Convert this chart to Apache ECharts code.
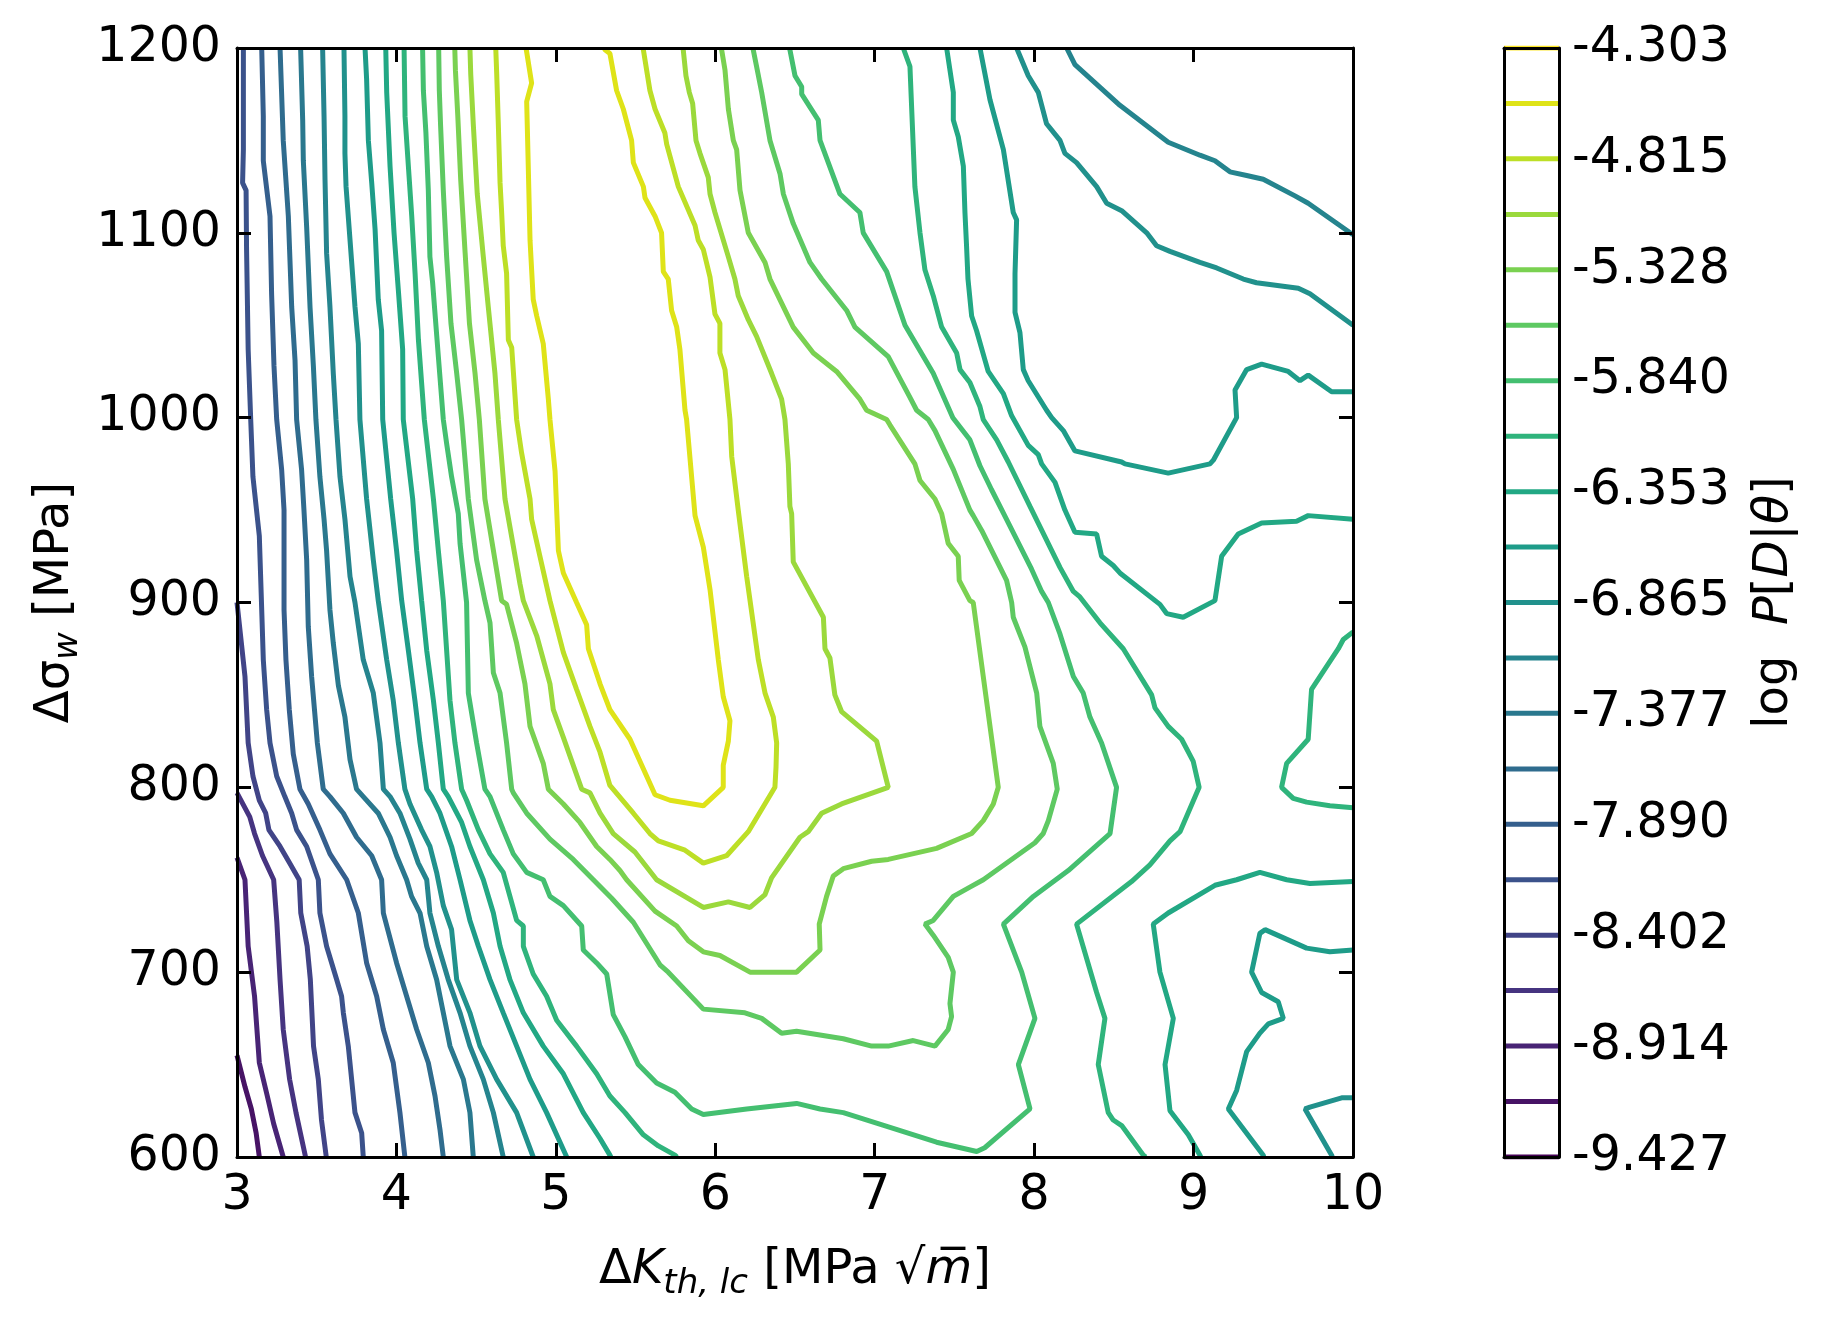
<!DOCTYPE html>
<html>
<head>
<meta charset="utf-8">
<script src="https://cdn.jsdelivr.net/npm/echarts@6/dist/echarts.min.js"></script>
<style>
html, body { margin: 0; padding: 0; background: #fff; }
#chart { width: 1835px; height: 1326px; }
</style>
</head>
<body>
<div id="chart"></div>
<script>
// contour levels of log P[D|theta] and their viridis colours
const LEVELS = [-9.427, -9.171, -8.914, -8.658, -8.402, -8.146, -7.890, -7.634, -7.377, -7.121,
  -6.865, -6.609, -6.353, -6.097, -5.840, -5.584, -5.328, -5.072, -4.815, -4.559, -4.303];
const COLORS = ['#440154', '#471365', '#482475', '#463480', '#414487', '#3b528b', '#355f8d', '#2f6c8e',
  '#2a788e', '#25848e', '#21918c', '#1e9c89', '#22a884', '#2fb47c', '#44bf70', '#5ec962', '#7ad151',
  '#9bd93c', '#bddf26', '#dfe318', '#fde725'];
const CBAR_TICKS = [-9.427, -8.914, -8.402, -7.890, -7.377, -6.865, -6.353, -5.840, -5.328, -4.815, -4.303];

// contour pieces, [dK, dSigma] pairs
const L01 = [[3.00,655],[3.05,638],[3.09,626],[3.12,613],[3.14,600]];
const L02 = [[3.00,762],[3.05,750],[3.07,714],[3.11,687],[3.14,651],[3.19,633],[3.23,618],[3.29,600]];
const L03 = [[3.00,797],[3.08,784],[3.11,775],[3.16,763],[3.23,750],[3.25,727],[3.27,696],[3.29,669],[3.33,642],[3.37,624],[3.43,600]];
const L04 = [[3.00,900],[3.05,860],[3.07,824],[3.10,806],[3.14,793],[3.18,786],[3.20,777],[3.27,768],[3.33,759],[3.39,750],[3.40,732],[3.44,714],[3.46,696],[3.48,660],[3.51,642],[3.53,620],[3.56,600]];
const L05 = [[3.04,1200],[3.04,1145],[3.035,1127],[3.057,1123],[3.06,1091],[3.07,1037],[3.086,999],[3.10,968],[3.14,936],[3.155,896],[3.165,869],[3.186,842],[3.207,824],[3.249,806],[3.30,795],[3.343,786],[3.374,777],[3.437,768],[3.51,750],[3.52,732],[3.562,714],[3.625,696],[3.656,687],[3.667,678],[3.698,660],[3.74,624],[3.782,613],[3.792,600]];
const L06 = [[3.155,1200],[3.165,1163],[3.165,1139],[3.207,1109],[3.217,1067],[3.232,1028],[3.249,999],[3.28,972],[3.295,950],[3.295,896],[3.307,869],[3.328,842],[3.353,818],[3.395,799],[3.447,791],[3.52,777],[3.583,764],[3.688,750],[3.761,732],[3.813,705],[3.876,687],[3.918,669],[3.98,651],[4.022,624],[4.053,600]];
const L07 = [[3.27,1200],[3.29,1150],[3.322,1109],[3.343,1060],[3.364,1031],[3.374,999],[3.405,972],[3.42,950],[3.437,923],[3.447,887],[3.468,860],[3.504,824],[3.541,799],[3.583,795],[3.667,786],[3.75,773],[3.845,763],[3.907,750],[3.918,732],[4.001,705],[4.064,687],[4.127,669],[4.2,651],[4.242,633],[4.273,615],[4.294,600]];
const L08 = [[3.399,1200],[3.412,1161],[3.416,1139],[3.437,1103],[3.458,1060],[3.479,1028],[3.495,999],[3.52,968],[3.546,945],[3.562,928],[3.583,896],[3.604,878],[3.636,855],[3.677,838],[3.709,815],[3.75,799],[3.792,795],[3.886,786],[3.96,773],[4.001,763],[4.064,750],[4.095,741],[4.148,732],[4.19,714],[4.252,696],[4.294,678],[4.336,660],[4.42,642],[4.461,624],[4.482,600]];
const L09 = [[3.537,1200],[3.546,1163],[3.552,1129],[3.562,1089],[3.583,1060],[3.604,1024],[3.621,999],[3.646,968],[3.677,945],[3.709,914],[3.74,900],[3.792,869],[3.855,851],[3.897,824],[3.918,799],[3.96,795],[4.022,786],[4.085,772],[4.137,759],[4.19,750],[4.21,732],[4.263,714],[4.325,696],[4.399,678],[4.461,660],[4.545,642],[4.608,624],[4.67,600]];
const L09R = [[8.204,1200],[8.256,1191],[8.538,1169],[8.841,1149],[9.04,1142],[9.134,1139],[9.228,1133],[9.333,1131],[9.437,1129],[9.636,1120],[9.719,1116],[10.0,1099]];
const L10 = [[3.671,1200],[3.677,1163],[3.677,1143],[3.684,1125],[3.709,1096],[3.74,1060],[3.761,1040],[3.771,999],[3.813,956],[3.855,923],[3.886,901],[3.939,869],[3.98,847],[4.012,824],[4.053,799],[4.085,791],[4.158,777],[4.21,768],[4.252,754],[4.294,736],[4.346,723],[4.378,696],[4.461,678],[4.524,660],[4.629,642],[4.754,624],[4.858,600]];
const L10R = [[7.89,1200],[7.963,1185],[8.026,1176],[8.078,1159],[8.162,1150],[8.193,1143],[8.266,1138],[8.392,1125],[8.455,1116],[8.549,1112],[8.706,1100],[8.768,1093],[8.852,1090],[9.04,1084],[9.145,1081],[9.312,1075],[9.395,1073],[9.657,1070],[9.73,1067],[10.0,1050]];
const L10B = [[10.0,632],[9.929,632],[9.73,627],[9.699,626],[9.866,601],[9.87,600]];
const L11 = [[3.803,1200],[3.813,1183],[3.824,1150],[3.845,1127],[3.866,1102],[3.886,1064],[3.907,1047],[3.914,999],[3.964,956],[4.001,928],[4.033,901],[4.075,874],[4.116,847],[4.148,824],[4.19,799],[4.221,795],[4.273,786],[4.346,768],[4.399,750],[4.461,728],[4.514,714],[4.587,696],[4.67,678],[4.754,660],[4.838,642],[4.942,624],[5.068,600]];
const L11R = [[7.66,1200],[7.723,1172],[7.807,1145],[7.869,1111],[7.89,1107],[7.88,1078],[7.88,1057],[7.911,1046],[7.932,1026],[7.963,1020],[8.078,1004],[8.11,1000],[8.183,993],[8.256,982],[8.549,976],[8.57,975],[8.841,970],[9.103,975],[9.124,977],[9.27,1000],[9.26,1015],[9.333,1026],[9.427,1029],[9.594,1025],[9.667,1020],[9.719,1023],[9.866,1014],[10.0,1014]];
const L11B = [[10.0,712],[9.855,711],[9.709,713],[9.448,723],[9.416,721],[9.364,700],[9.427,689],[9.531,684],[9.563,675],[9.469,672],[9.416,667],[9.333,657],[9.27,636],[9.218,626],[9.437,601],[9.44,600]];
const L12 = [[3.933,1200],[3.939,1176],[3.96,1136],[3.985,1100],[4.012,1069],[4.039,1037],[4.043,999],[4.102,956],[4.127,928],[4.158,901],[4.19,874],[4.232,847],[4.263,824],[4.294,799],[4.325,795],[4.409,781],[4.461,768],[4.545,750],[4.608,732],[4.65,714],[4.712,696],[4.796,678],[4.921,660],[5.047,645],[5.172,624],[5.277,610],[5.339,601],[5.345,600]];
const L12R = [[7.451,1200],[7.493,1176],[7.493,1161],[7.524,1152],[7.556,1136],[7.566,1111],[7.576,1093],[7.585,1075],[7.608,1055],[7.639,1047],[7.65,1046],[7.692,1031],[7.712,1025],[7.807,1013],[7.859,1001],[7.963,985],[8.026,980],[8.047,975],[8.131,965],[8.193,950],[8.256,938],[8.392,937],[8.423,925],[8.496,920],[8.538,916],[8.789,899],[8.831,894],[8.935,892],[9.134,901],[9.176,925],[9.28,937],[9.427,943],[9.646,944],[9.719,947],[10.0,945]];
const L12B = [[10.0,749],[9.73,748],[9.584,750],[9.416,754],[9.27,750],[9.134,747],[8.841,732],[8.747,726],[8.789,700],[8.873,675],[8.821,650],[8.852,625],[8.967,612],[9.04,601],[9.045,600]];
const L13 = [[4.048,1200],[4.054,1163],[4.075,1136],[4.096,1109],[4.117,1078],[4.138,1042],[4.175,999],[4.232,956],[4.263,928],[4.294,901],[4.315,874],[4.336,847],[4.367,824],[4.409,799],[4.44,793],[4.514,777],[4.587,764],[4.67,754],[4.712,741],[4.754,728],[4.796,725],[4.796,714],[4.858,699],[4.942,687],[5.005,674],[5.13,660],[5.256,645],[5.339,633],[5.434,624],[5.549,612],[5.643,606],[5.747,601],[5.76,600]];
const L13R = [[7.179,1200],[7.221,1190],[7.252,1125],[7.284,1100],[7.315,1080],[7.367,1066],[7.42,1049],[7.514,1035],[7.535,1026],[7.597,1019],[7.66,1006],[7.681,999],[7.765,988],[7.838,976],[7.974,952],[8.162,919],[8.246,906],[8.287,903],[8.413,889],[8.559,875],[8.737,850],[8.758,843],[8.841,833],[8.925,826],[8.998,814],[9.035,800],[8.915,776],[8.852,771],[8.726,758],[8.611,749],[8.266,726],[8.392,689],[8.444,675],[8.402,650],[8.465,624],[8.496,620],[8.549,617],[8.685,601],[8.70,600]];
const L13B = [[10.0,884],[9.939,880],[9.908,875],[9.74,853],[9.719,826],[9.584,813],[9.552,800],[9.625,794],[9.709,792],[9.855,790],[10.0,789]];
const L14 = [[4.164,1200],[4.169,1177],[4.185,1154],[4.2,1123],[4.21,1087],[4.227,1073],[4.263,1033],[4.294,999],[4.315,986],[4.346,968],[4.388,948],[4.399,932],[4.44,900],[4.451,851],[4.503,824],[4.555,799],[4.587,795],[4.67,777],[4.733,764],[4.817,754],[4.921,750],[4.963,741],[5.047,736],[5.162,725],[5.172,712],[5.256,705],[5.319,699],[5.36,677],[5.434,665],[5.517,650],[5.632,640],[5.747,635],[5.852,626],[5.925,623],[6.197,626],[6.51,629],[6.657,626],[6.803,624],[7.096,616],[7.388,608],[7.64,603],[7.69,605],[7.974,626],[7.901,650],[8.005,675],[7.922,700],[7.807,726],[7.995,741],[8.214,755],[8.476,775],[8.517,800],[8.423,824],[8.35,838],[8.308,851],[8.246,860],[8.162,883],[8.089,900],[8.047,906],[7.984,918],[7.827,945],[7.733,961],[7.66,974],[7.597,988],[7.49,1000],[7.367,1024],[7.19,1050],[7.075,1079],[6.928,1100],[6.907,1111],[6.782,1121],[6.657,1150],[6.646,1161],[6.542,1175],[6.542,1179],[6.5,1185],[6.468,1199],[6.465,1200]];
const L15 = [[4.265,1200],[4.269,1177],[4.277,1158],[4.294,1123],[4.315,1087],[4.342,1051],[4.378,1024],[4.409,999],[4.451,956],[4.503,923],[4.555,901],[4.587,889],[4.608,862],[4.65,851],[4.691,824],[4.723,799],[4.733,797],[4.817,786],[4.963,772],[5.109,761],[5.235,750],[5.35,740],[5.486,727],[5.653,704],[5.705,700],[5.925,680],[6.186,678],[6.291,675],[6.416,667],[6.51,668],[6.803,664],[6.981,660],[7.085,660],[7.242,663],[7.378,660],[7.461,669],[7.482,676],[7.472,683],[7.493,700],[7.461,708],[7.367,720],[7.315,726],[7.367,728],[7.493,741],[7.597,746],[7.681,750],[8.005,770],[8.057,775],[8.089,782],[8.145,799],[8.12,813],[8.036,833],[8.016,851],[7.942,876],[7.869,892],[7.859,900],[7.827,912],[7.671,939],[7.618,947],[7.597,950],[7.493,972],[7.378,993],[7.336,999],[7.263,1004],[7.221,1011],[7.085,1033],[6.876,1049],[6.824,1058],[6.667,1075],[6.594,1084],[6.489,1105],[6.427,1121],[6.406,1132],[6.343,1150],[6.291,1176],[6.259,1190],[6.238,1199],[6.236,1200]];
const L16 = [[4.366,1200],[4.37,1188],[4.385,1163],[4.403,1129],[4.431,1089],[4.458,1051],[4.493,1024],[4.52,999],[4.555,956],[4.66,901],[4.691,899],[4.754,878],[4.806,856],[4.838,833],[4.921,813],[4.953,799],[5.047,791],[5.151,781],[5.256,768],[5.339,761],[5.402,755],[5.444,750],[5.622,733],[5.758,725],[5.831,717],[5.925,711],[6.029,709],[6.218,700],[6.51,700],[6.657,712],[6.652,726],[6.698,741],[6.74,752],[6.803,756],[6.981,760],[7.085,761],[7.388,767],[7.608,775],[7.681,782],[7.744,791],[7.775,800],[7.618,900],[7.597,901],[7.53,912],[7.524,925],[7.461,932],[7.42,948],[7.378,956],[7.284,966],[7.252,975],[7.096,996],[7.075,999],[6.949,1004],[6.907,1010],[6.761,1025],[6.615,1035],[6.489,1049],[6.343,1075],[6.312,1084],[6.207,1100],[6.155,1123],[6.134,1145],[6.113,1150],[6.082,1167],[6.061,1188],[6.04,1199],[6.039,1200]];
const L17 = [[4.461,1200],[4.466,1186],[4.482,1159],[4.507,1121],[4.545,1087],[4.576,1060],[4.618,1024],[4.639,999],[4.681,956],[4.775,910],[4.796,901],[4.88,882],[4.963,856],[4.984,842],[5.047,827],[5.162,799],[5.214,797],[5.277,786],[5.36,775],[5.496,765],[5.632,750],[5.925,735],[6.082,738],[6.218,735],[6.312,742],[6.353,751],[6.531,773],[6.583,776],[6.667,786],[6.792,791],[7.085,800],[7.012,825],[6.792,841],[6.75,850],[6.719,870],[6.688,875],[6.678,892],[6.489,922],[6.479,948],[6.468,952],[6.458,975],[6.437,999],[6.416,1010],[6.353,1024],[6.259,1044],[6.207,1053],[6.144,1066],[6.123,1075],[6.082,1087],[5.998,1111],[5.967,1121],[5.956,1130],[5.904,1143],[5.879,1150],[5.858,1170],[5.837,1176],[5.816,1185],[5.799,1199],[5.797,1200]];
const L18 = [[4.623,1200],[4.629,1186],[4.639,1159],[4.65,1127],[4.66,1111],[4.67,1093],[4.691,1078],[4.702,1042],[4.723,1038],[4.754,999],[4.785,981],[4.838,956],[4.848,945],[4.9,925],[4.963,901],[5.047,873],[5.13,853],[5.214,833],[5.277,819],[5.339,801],[5.486,786],[5.59,775],[5.643,771],[5.81,766],[5.925,759],[6.071,763],[6.207,776],[6.374,800],[6.381,811],[6.385,824],[6.364,838],[6.312,851],[6.27,869],[6.197,914],[6.144,950],[6.103,979],[6.092,999],[6.061,1026],[6.029,1035],[6.029,1051],[5.998,1056],[5.967,1076],[5.925,1091],[5.893,1096],[5.873,1104],[5.768,1125],[5.695,1148],[5.684,1154],[5.622,1167],[5.59,1177],[5.549,1199],[5.547,1200]];
const L19 = [[4.813,1200],[4.848,1181],[4.817,1171],[4.823,1150],[4.838,1096],[4.858,1064],[4.88,1055],[4.921,1040],[4.953,1010],[4.963,999],[4.995,971],[5.016,928],[5.047,916],[5.13,900],[5.193,888],[5.204,875],[5.277,856],[5.339,842],[5.465,826],[5.601,800],[5.622,796],[5.716,793],[5.925,790],[6.05,800],[6.05,812],[6.082,825],[6.092,836],[6.05,849],[6.019,869],[5.967,907],[5.925,930],[5.873,947],[5.82,999],[5.81,1004],[5.778,1037],[5.758,1049],[5.726,1058],[5.705,1075],[5.674,1079],[5.663,1100],[5.622,1109],[5.559,1119],[5.549,1125],[5.486,1138],[5.475,1150],[5.423,1167],[5.381,1177],[5.339,1197],[5.308,1199],[5.305,1200]];

// [level index, piece]
const CONTOURS = [
  [1, L01], [2, L02], [3, L03], [4, L04], [5, L05], [6, L06], [7, L07], [8, L08],
  [9, L09], [9, L09R], [10, L10], [10, L10R], [10, L10B],
  [11, L11], [11, L11R], [11, L11B], [12, L12], [12, L12R], [12, L12B],
  [13, L13], [13, L13R], [13, L13B], [14, L14], [15, L15], [16, L16],
  [17, L17], [18, L18], [19, L19]
];

const FONT = 'DejaVu Sans';
const chart = echarts.init(document.getElementById('chart'));

const frameLine = { show: true, onZero: false, lineStyle: { color: '#000', width: 3 } };
const inTick = { show: true, inside: true, length: 14, lineStyle: { color: '#000', width: 3 } };
const tickFont = { fontSize: 49, color: '#000', fontFamily: FONT };
const rich = {
  i: { fontSize: 48, fontStyle: 'italic', fontFamily: FONT, color: '#000', lineHeight: 60 },
  s: { fontSize: 34, fontStyle: 'italic', fontFamily: FONT, color: '#000', lineHeight: 30, verticalAlign: 'bottom' }
};
const nameStyle = { fontSize: 48, fontFamily: FONT, color: '#000', lineHeight: 60, rich: rich };

const series = CONTOURS.map(([lv, pts]) => ({
  type: 'line', xAxisIndex: 0, yAxisIndex: 0, data: pts,
  symbol: 'none', silent: true,
  lineStyle: { color: COLORS[lv], width: 5 }
}));
// colorbar strokes
LEVELS.forEach((v, i) => {
  series.push({
    type: 'line', xAxisIndex: 2, yAxisIndex: 2, data: [[0, v], [1, v]],
    symbol: 'none', silent: true, lineStyle: { color: COLORS[i], width: 5 }
  });
});

chart.setOption({
  animation: false,
  backgroundColor: '#fff',
  grid: [
    { left: 237, top: 48, width: 1116, height: 1109 },
    { left: 1504, top: 48, width: 55, height: 1109 }
  ],
  xAxis: [
    { gridIndex: 0, type: 'value', min: 3, max: 10, interval: 1, position: 'bottom', z: 10,
      axisLine: frameLine, axisTick: inTick, splitLine: { show: false },
      axisLabel: Object.assign({ margin: 15, formatter: v => String(v) }, tickFont),
      name: 'Δ{i|K}{s|th, lc} [MPa √{i|m\u0305}]', nameLocation: 'middle', nameGap: 84, nameTextStyle: nameStyle },
    { gridIndex: 0, type: 'value', min: 3, max: 10, interval: 1, position: 'top', z: 10,
      axisLine: frameLine, axisTick: inTick, axisLabel: { show: false }, splitLine: { show: false } },
    { gridIndex: 1, type: 'value', min: 0, max: 1, position: 'bottom', z: 10,
      axisLine: frameLine, axisTick: { show: false }, axisLabel: { show: false }, splitLine: { show: false } },
    { gridIndex: 1, type: 'value', min: 0, max: 1, position: 'top', z: 10,
      axisLine: frameLine, axisTick: { show: false }, axisLabel: { show: false }, splitLine: { show: false } }
  ],
  yAxis: [
    { gridIndex: 0, type: 'value', min: 600, max: 1200, interval: 100, position: 'left', z: 10,
      axisLine: frameLine, axisTick: inTick, splitLine: { show: false },
      axisLabel: Object.assign({ margin: 16, formatter: v => String(v) }, tickFont),
      name: 'Δσ{s|w} [MPa]', nameLocation: 'middle', nameGap: 142, nameRotate: 90, nameTextStyle: nameStyle },
    { gridIndex: 0, type: 'value', min: 600, max: 1200, interval: 100, position: 'right', z: 10,
      axisLine: frameLine, axisTick: inTick, axisLabel: { show: false }, splitLine: { show: false } },
    { gridIndex: 1, type: 'value', min: -9.427, max: -4.303, position: 'right', z: 10,
      axisLine: frameLine, axisTick: { show: false }, splitLine: { show: false },
      axisLabel: Object.assign({ margin: 13, customValues: CBAR_TICKS,
        formatter: v => v.toFixed(3), showMinLabel: true, showMaxLabel: true }, tickFont),
      name: 'log  {i|P}[{i|D}|{i|θ}]', nameLocation: 'middle', nameGap: 186, nameRotate: 90, nameTextStyle: nameStyle },
    { gridIndex: 1, type: 'value', min: -9.427, max: -4.303, position: 'left', z: 10,
      axisLine: frameLine, axisTick: { show: false }, axisLabel: { show: false }, splitLine: { show: false } }
  ],
  series: series
});
</script>
</body>
</html>
